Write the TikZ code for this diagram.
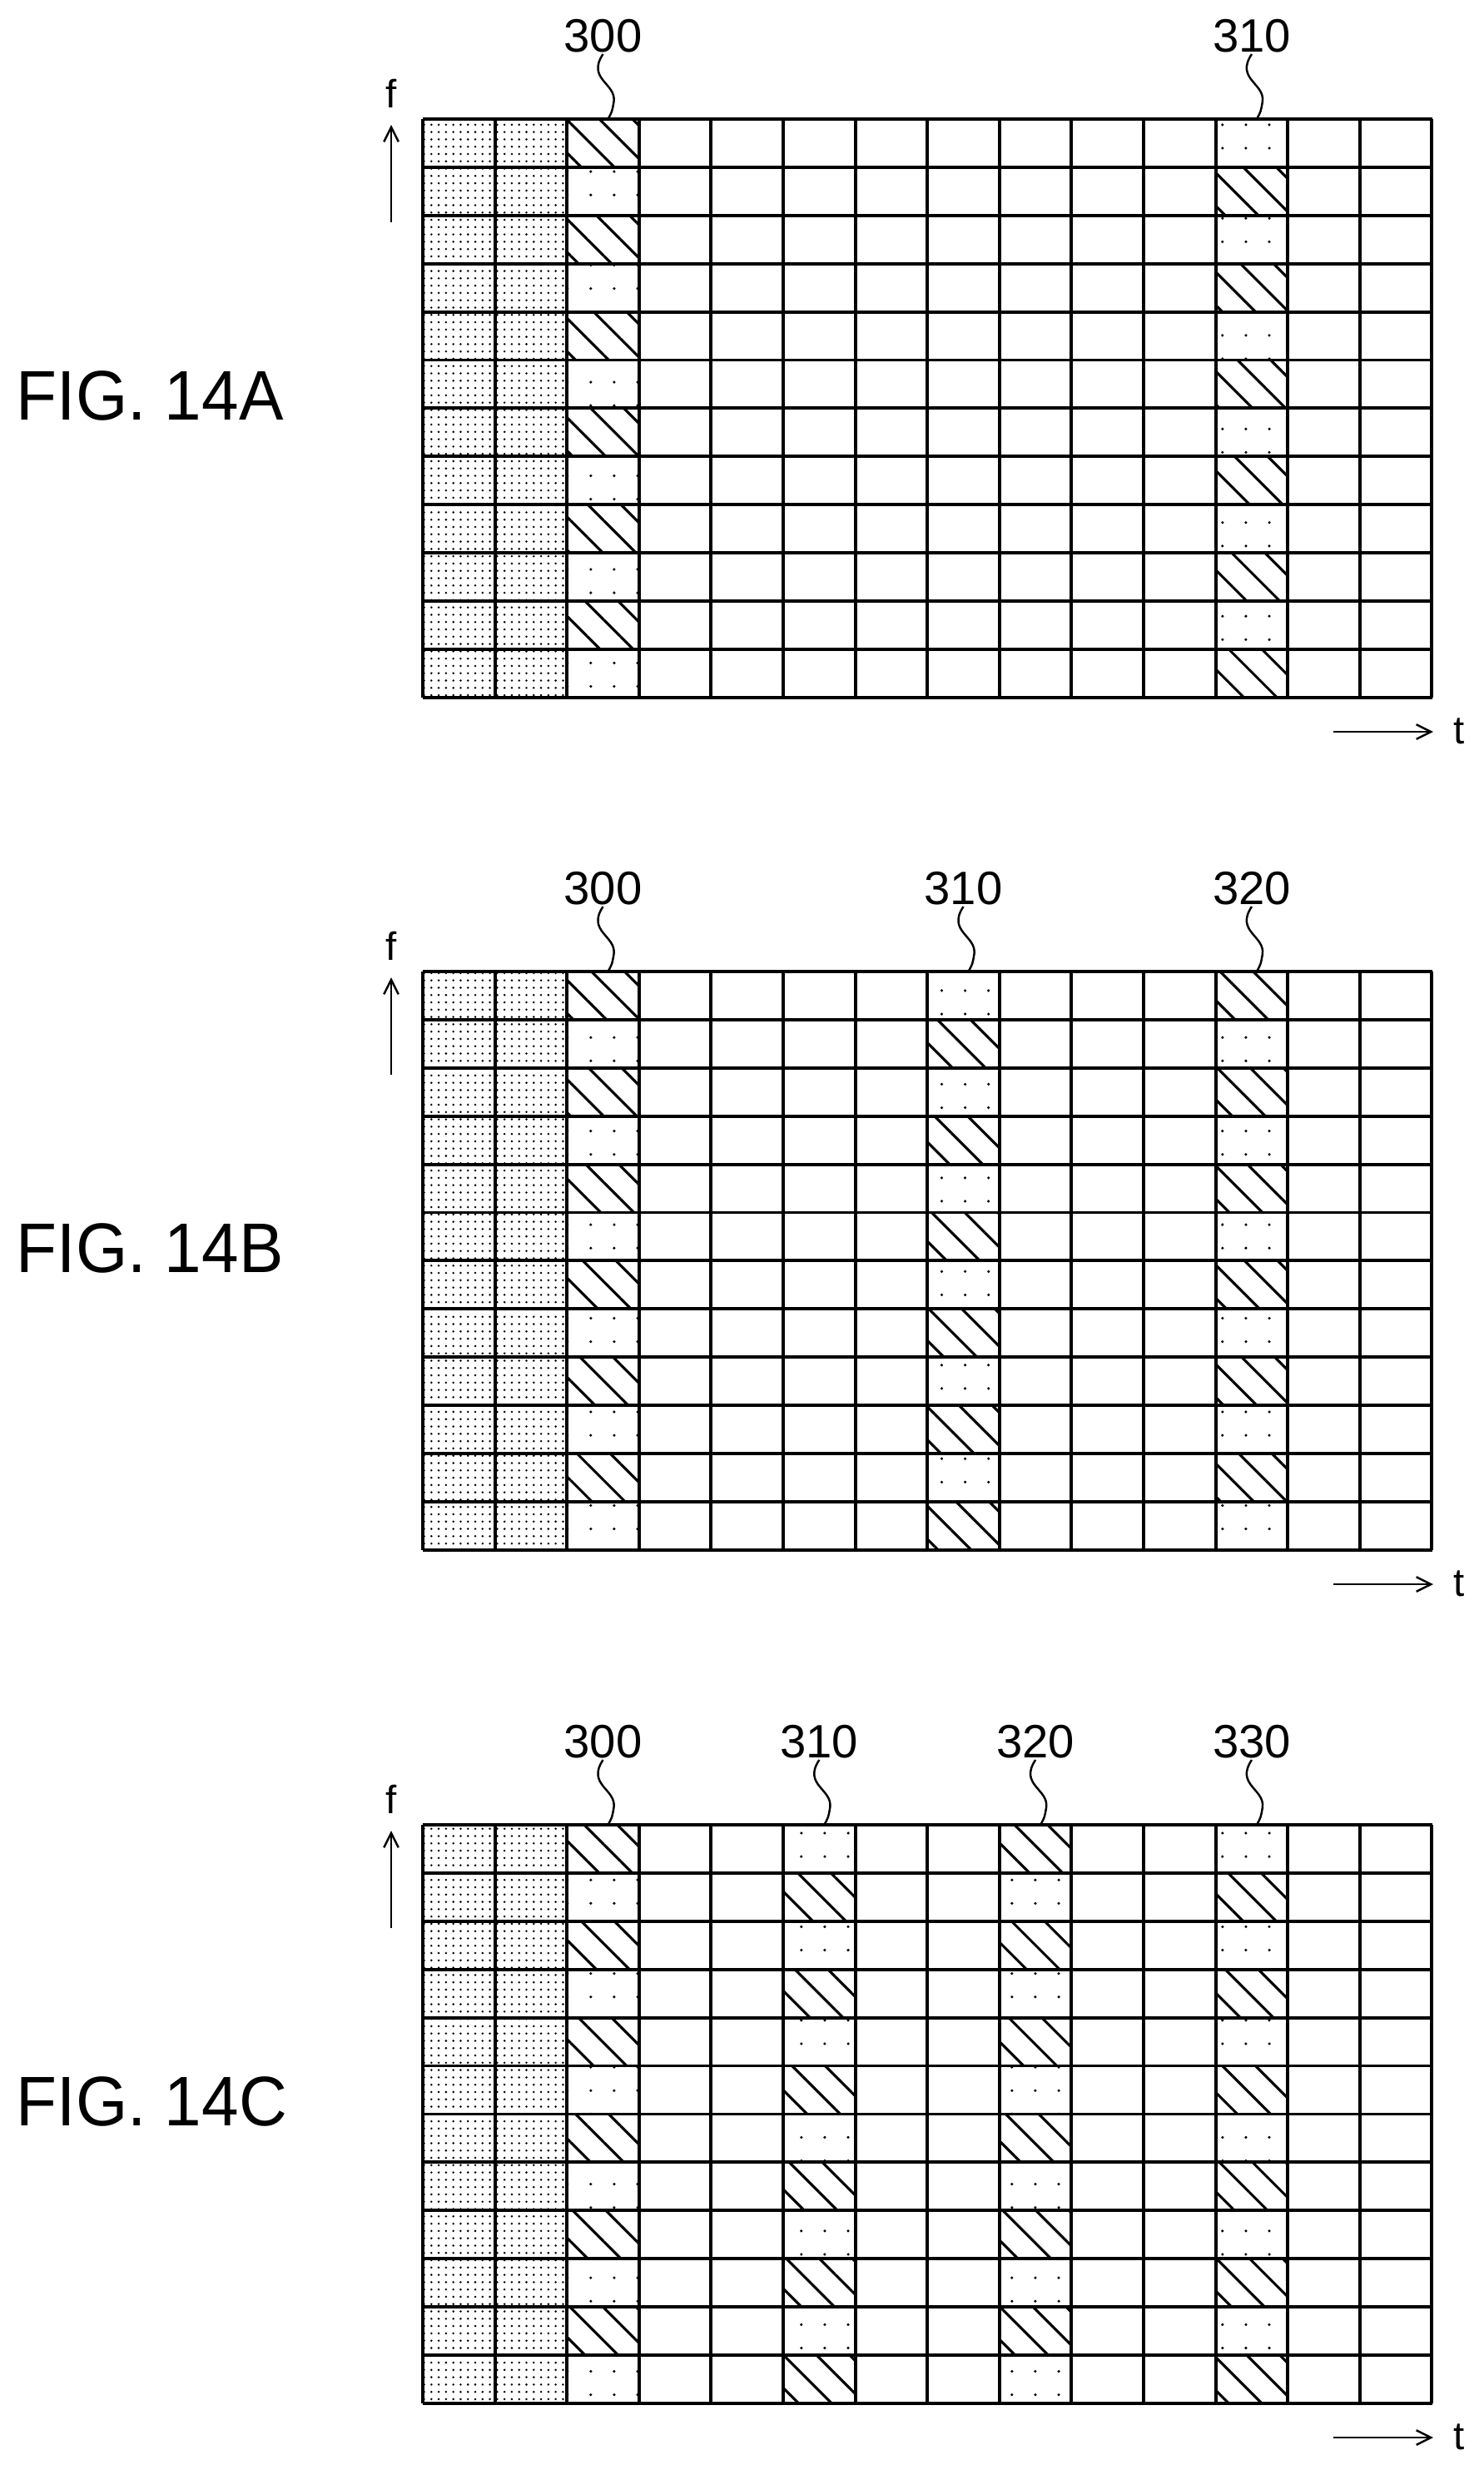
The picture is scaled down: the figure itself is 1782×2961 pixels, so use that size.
\documentclass[tikz,border=0pt]{standalone}
\usepackage{fontspec}
\setmainfont{Liberation Sans}
\usetikzlibrary{arrows.meta, patterns.meta}

\tikzset{
  gridline/.style={line width=2.2pt},
  densecell/.style={pattern={Dots[distance=5pt, radius=0.8pt]}},
  sparsecell/.style={pattern={Dots[distance=16pt, radius=1pt, xshift=4pt]}},
  hatchcell/.style={pattern={Lines[angle=-45, distance=16pt, line width=1.8pt]}},
  reflabel/.style={font=\fontsize{32}{32}\selectfont, inner sep=1pt},
  figlabel/.style={font=\fontsize{48}{48}\selectfont, anchor=west, xscale=0.95},
  axislabel/.style={font=\fontsize{27}{27}\selectfont},
  leader/.style={line width=1.4pt},
  axisarrow/.style={line width=1.4pt, -{Straight Barb[length=10pt, width=10pt]}}
}

% one time-frequency grid: #1 = panel, #2 = list col/start/label
\newcommand{\tfpanel}[2]{
  % first two columns
  \foreach \r in {0,...,11}
    \foreach \c in {0,1}
      \fill[densecell] (508+86.6*\c,143+57.9*\r) rectangle ++(86.6,57.9);
  % reference signal columns
  \foreach \c/\s/\lab in {#2} {
    \foreach \r in {0,...,11} {
      \pgfmathtruncatemacro\k{mod(\r+\s,2)}
      \ifnum\k=0
        \fill[hatchcell] (508+86.6*\c,143+57.9*\r) rectangle ++(86.6,57.9);
      \else
        \fill[sparsecell] (508+86.6*\c,143+57.9*\r) rectangle ++(86.6,57.9);
      \fi
    }
    \pgfmathsetmacro\xc{508+86.6*(\c+0.5)}
    \node[reflabel] (lab#1\lab) at (\xc,43) {\lab};
    \coordinate (tip#1\lab) at (\xc+6,143);
    \draw[leader] (lab#1\lab.south) .. controls (\xc-20,95) and (\xc+16,100) .. (\xc+13,122)
      .. controls (\xc+11,134) .. (tip#1\lab);
  }
  % grid lines
  \foreach \c in {0,...,14}
    \draw[gridline] (508+86.6*\c,143) -- (508+86.6*\c,838);
  \foreach \r in {0,...,12}
    \draw[gridline] (508,143+57.9*\r) -- (1721,143+57.9*\r);
  % axes
  \node[axislabel] (f#1) at (470,112) {f};
  \coordinate (fs#1) at (470,267);
  \draw[axisarrow] (fs#1) -- (470,150);
  \node[axislabel] (t#1) at (1753,878) {t};
  \coordinate (ts#1) at (1602,879);
  \draw[axisarrow] (ts#1) -- (1722,879);
  % caption
  \node[figlabel] (fig#1) at (14,475) {FIG. 14#1};
}

\begin{document}
\begin{tikzpicture}[x=0.02cm, y=-0.02cm]
  \useasboundingbox (0,0) rectangle (1782,2961);

  % FIG. 14A
  \begin{scope}
    \tfpanel{A}{2/0/300, 11/1/310}
  \end{scope}

  % FIG. 14B
  \begin{scope}[shift={(0,1024)}]
    \tfpanel{B}{2/0/300, 7/1/310, 11/0/320}
  \end{scope}

  % FIG. 14C
  \begin{scope}[shift={(0,2049)}]
    \tfpanel{C}{2/0/300, 5/1/310, 8/0/320, 11/1/330}
  \end{scope}
\end{tikzpicture}
\end{document}
